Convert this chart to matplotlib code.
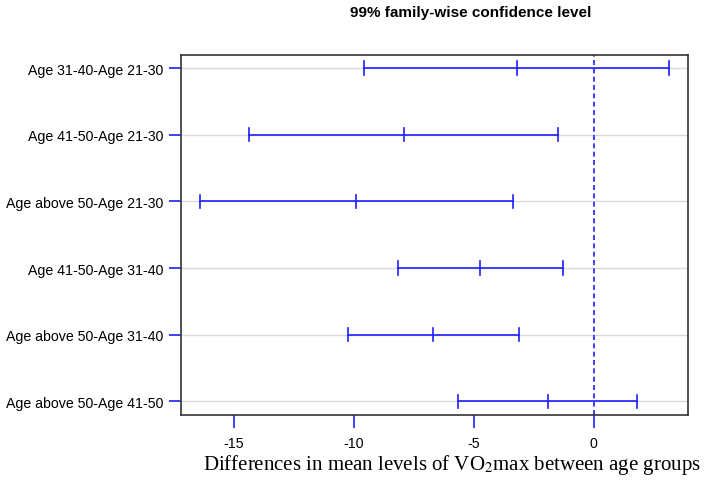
import matplotlib
import matplotlib.pyplot as plt

matplotlib.use("Agg")

# Tukey HSD comparisons, top row first
comparisons = [
    "Age 31-40-Age 21-30",
    "Age 41-50-Age 21-30",
    "Age above 50-Age 21-30",
    "Age 41-50-Age 31-40",
    "Age above 50-Age 31-40",
    "Age above 50-Age 41-50",
]
diff = [-3.20, -7.92, -9.89, -4.72, -6.69, -1.92]
lwr = [-9.56, -14.37, -16.41, -8.13, -10.25, -5.66]
upr = [3.15, -1.48, -3.38, -1.29, -3.09, 1.79]
x_ticks = [-15, -10, -5, 0]

plt.rcParams["font.family"] = "Liberation Sans"
plt.rcParams["mathtext.fontset"] = "stix"

fig = plt.figure(figsize=(7.08, 4.85), dpi=100)
ax = fig.add_axes([181 / 708, 1 - 415.7 / 485, 507 / 708, 360 / 485])

blue = "#1f1fff"
n = len(comparisons)
ys = list(range(n, 0, -1))

# light grid lines at each comparison
for y in ys:
    ax.axhline(y, color="#d9d9d9", linewidth=1, zorder=1)

ax.axvline(0, color=blue, linestyle=(0, (3, 2)), linewidth=1.2, zorder=2)

for y, lo, mid, hi in zip(ys, lwr, diff, upr):
    ax.plot([lo, hi], [y, y], color=blue, linewidth=1.2, zorder=3)
    for xv in (lo, mid, hi):
        ax.plot([xv, xv], [y - 0.1, y + 0.1], color=blue, linewidth=1.2, zorder=3)

# R style 4% padding
span = max(upr) - min(lwr)
ax.set_xlim(min(lwr) - 0.04 * span, max(upr) + 0.04 * span)
ax.set_ylim(0.8, n + 0.2)

ax.set_yticks(ys)
ax.set_yticklabels(comparisons, fontsize=10.2)
ax.set_xticks(x_ticks)
ax.set_xticklabels([str(t) for t in x_ticks], fontsize=10.2)
ax.tick_params(axis="both", color=blue, length=9, width=1.2, labelcolor="black")
ax.tick_params(axis="x", pad=6)
ax.tick_params(axis="y", pad=4)

for s in ax.spines.values():
    s.set_color("#333333")
    s.set_linewidth(1.2)

fig.text(471 / 708, 1 - 13 / 485, "99% family-wise confidence level",
         ha="center", va="center", fontsize=11, fontweight="bold")
fig.text(452 / 708, 1 - 465 / 485,
         "Differences in mean levels of VO$_2$max between age groups",
         ha="center", va="center", fontsize=15, family="Liberation Serif")

fig.savefig("out.png", dpi=100)
plt.close(fig)
